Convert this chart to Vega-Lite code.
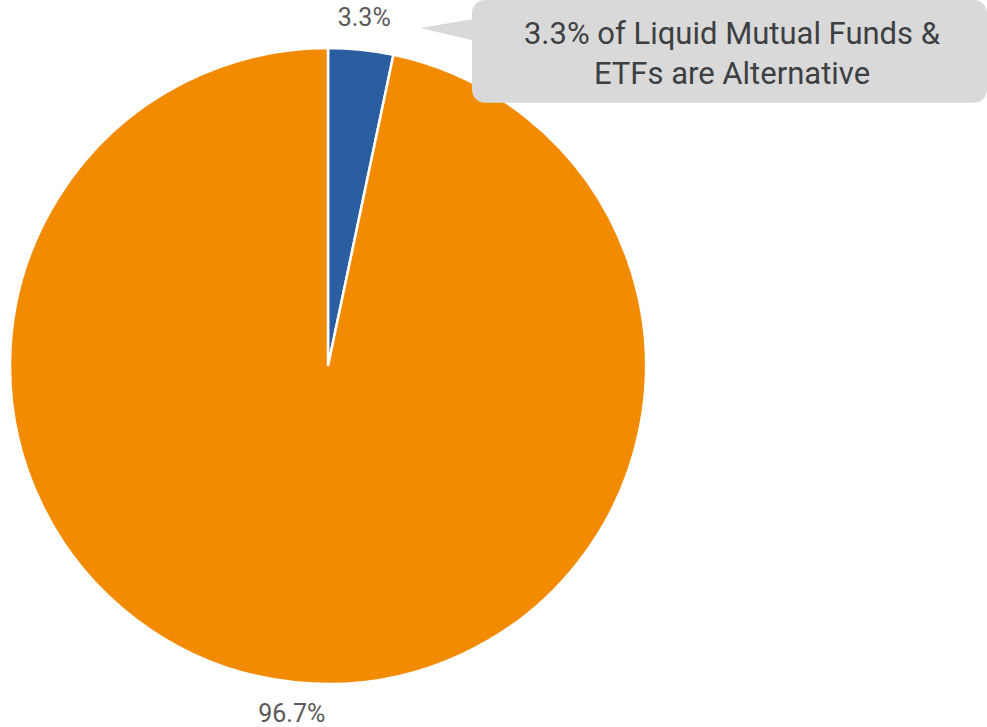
{
  "$schema": "https://vega.github.io/schema/vega-lite/v6.json",
  "width": 987,
  "height": 727,
  "autosize": {"type": "fit", "contains": "padding"},
  "padding": 0,
  "background": "white",
  "config": {"view": {"stroke": null}, "font": "Roboto"},
  "data": {"values": [
    {"category": "Alternative", "value": 3.3, "label": "3.3%", "rank": 1},
    {"category": "Other", "value": 96.7, "label": "96.7%", "rank": 2}
  ]},
  "encoding": {
    "x": {"datum": 328, "type": "quantitative", "scale": {"domain": [0, 987], "nice": false, "zero": false}, "axis": null},
    "y": {"datum": 367, "type": "quantitative", "scale": {"domain": [727, 0], "nice": false, "zero": false}, "axis": null}
  },
  "layer": [
    {
      "mark": {"type": "arc", "outerRadius": 318, "stroke": "white", "strokeWidth": 2.5},
      "encoding": {
        "theta": {"field": "value", "type": "quantitative", "stack": true},
        "order": {"field": "rank", "type": "quantitative"},
        "color": {"field": "category", "type": "nominal", "scale": {"domain": ["Alternative", "Other"], "range": ["#2B5EA0", "#F28B00"]}, "legend": null}
      }
    },
    {
      "mark": {"type": "text", "radius": 350, "fontSize": 25, "color": "#595959", "font": "Roboto"},
      "encoding": {
        "theta": {"field": "value", "type": "quantitative", "stack": true},
        "order": {"field": "rank", "type": "quantitative"},
        "text": {"field": "label"}
      }
    },
    {
      "data": {"values": [{"note": "callout"}]},
      "mark": {"type": "point", "filled": true, "opacity": 1, "color": "#D9D9D9", "strokeWidth": 0, "shape": "M -1 0 L 1.3 -0.385 L 1.3 0.54 Z", "size": 2704},
      "encoding": {
        "x": {"datum": 446, "type": "quantitative"},
        "y": {"datum": 28, "type": "quantitative"}
      }
    },
    {
      "data": {"values": [{"note": "callout"}]},
      "mark": {"type": "rect", "color": "#D9D9D9", "cornerRadius": 13},
      "encoding": {
        "x": {"datum": 472, "type": "quantitative"},
        "x2": {"datum": 987},
        "y": {"datum": 0, "type": "quantitative"},
        "y2": {"datum": 103}
      }
    },
    {
      "data": {"values": [{"text": ["3.3% of Liquid Mutual Funds &", "ETFs are Alternative"]}]},
      "mark": {"type": "text", "fontSize": 31, "color": "#3C4043", "font": "Roboto", "align": "center", "baseline": "alphabetic", "lineHeight": 40},
      "encoding": {
        "x": {"datum": 732, "type": "quantitative"},
        "y": {"datum": 44, "type": "quantitative"},
        "text": {"field": "text"}
      }
    }
  ]
}
